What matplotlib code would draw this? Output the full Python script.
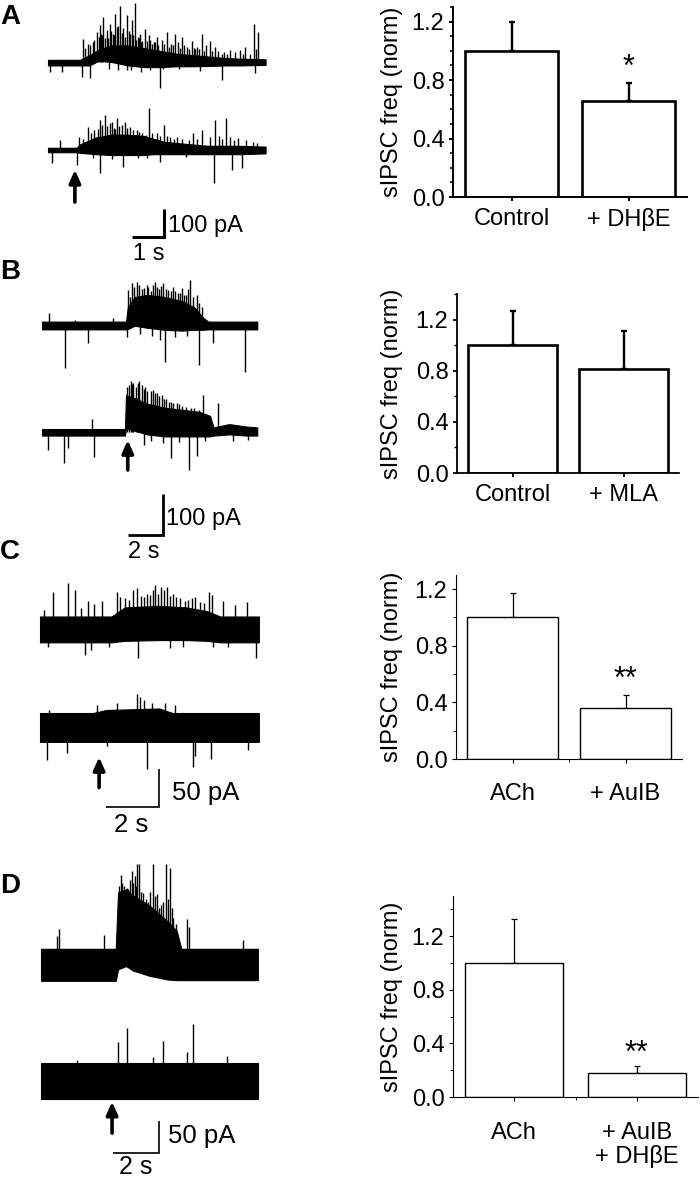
import numpy as np
import matplotlib
matplotlib.use("Agg")
import matplotlib.pyplot as plt
from matplotlib.ticker import MultipleLocator, FixedLocator

plt.rcParams['font.family'] = ['Liberation Sans', 'DejaVu Sans']

# ---------------- bar chart data ----------------
A_labels = ["Control", "+ DH\u03b2E"]
A_vals = [1.0, 0.66]
A_errs = [0.20, 0.12]
B_labels = ["Control", "+ MLA"]
B_vals = [1.0, 0.81]
B_errs = [0.27, 0.30]
C_labels = ["ACh", "+ AuIB"]
C_vals = [1.0, 0.36]
C_errs = [0.17, 0.09]
D_labels = ["ACh", "+ AuIB\n+ DH\u03b2E"]
D_vals = [1.0, 0.18]
D_errs = [0.33, 0.055]
yticks = [0.0, 0.4, 0.8, 1.2]
ytick_labels = ["0.0", "0.4", "0.8", "1.2"]

# ---------------- trace data (time s, current pA rel. to baseline) ----------------
# Panel A, top trace
A1_env_t = [0, 1.0, 1.3, 1.6, 2.0, 2.5, 3.0, 3.5, 4.0, 4.5, 5.0, 5.5, 6.0, 6.8]
A1_env_hi = [8, 8, 25, 45, 60, 60, 50, 40, 30, 25, 20, 15, 12, 10]
A1_env_lo = [-12, -12, -12, 6, 0, -12, -18, -18, -15, -15, -14, -12, -12, -10]
A1_up_t = [1.10, 1.26, 1.40, 1.52, 1.63, 1.70, 1.73, 1.83, 1.88, 1.94, 2.02, 2.09, 2.15, 2.25,
           2.35, 2.46, 2.52, 2.61, 2.72, 2.80, 2.88, 2.95, 3.03, 3.15, 3.30, 3.40, 3.55, 3.71,
           3.85, 3.97, 4.05, 4.18, 4.25, 4.33, 4.49, 4.60, 4.65, 4.80, 4.95, 5.06, 5.22, 5.30,
           5.43, 5.69, 5.85, 6.00, 6.16, 6.30, 6.44, 6.57,
           1.15, 1.32, 1.45, 1.58, 1.67, 1.78, 1.98, 2.05, 2.20, 2.30, 2.40, 2.56, 2.66, 2.76,
           2.84, 2.92, 3.08, 3.20, 3.25, 3.35, 3.45, 3.62, 3.78, 3.90, 4.12, 4.40, 4.55, 4.72,
           4.88, 5.12, 5.50, 5.60, 6.10, 6.50]
A1_up_a = [83, 65, 70, 107, 131, 95, 161, 113, 85, 137, 100, 173, 125, 202,
           120, 167, 110, 149, 211, 90, 101, 75, 119, 95, 70, 89, 80, 107,
           65, 101, 70, 89, 60, 54, 77, 45, 54, 101, 60, 77, 54, 40,
           30, 42, 35, 42, 54, 30, 137, 107,
           50, 60, 80, 90, 100, 85, 110, 95, 130, 105, 90, 100, 95, 80,
           85, 70, 75, 80, 65, 70, 60, 65, 55, 60, 50, 45, 50, 45,
           40, 40, 35, 30, 30, 45]
A1_dn_t = [0.06, 0.43, 1.05, 1.31, 2.46, 3.50, 4.75, 5.43, 6.47, 1.90, 2.20, 2.60, 2.90, 3.20, 3.60, 4.10]
A1_dn_a = [-36, -36, -54, -56, -30, -92, -32, -63, -39, -25, -30, -28, -35, -30, -25, -25]
# Panel A, bottom trace
A2_env_t = [0, 0.9, 1.0, 1.5, 2.0, 2.5, 3.0, 3.3, 3.6, 4.0, 4.5, 5.0, 5.5, 6.0, 6.8]
A2_env_hi = [8, 8, 20, 45, 55, 55, 50, 40, 30, 25, 20, 15, 15, 15, 12]
A2_env_lo = [-8, -8, -10, -15, -18, -18, -18, -15, -15, -15, -15, -15, -15, -15, -12]
A2_up_t = [0.375, 0.97, 1.26, 1.45, 1.63, 1.78, 1.94, 2.05, 2.15, 2.30, 2.41, 2.56, 2.77, 2.95,
           3.17, 3.40, 3.64, 3.81, 4.02, 4.54, 4.80, 5.22, 5.35, 5.56, 5.70, 5.95, 6.20, 6.52,
           1.10, 1.35, 1.55, 1.70, 1.85, 2.00, 2.10, 2.22, 2.48, 2.65, 2.85, 3.05, 3.25, 3.50,
           3.72, 3.95, 4.20, 4.40, 4.65, 5.05, 5.45, 5.80, 6.40]
A2_up_a = [36, 48, 83, 70, 107, 125, 95, 80, 113, 90, 101, 83, 71, 60,
           149, 60, 89, 48, 45, 60, 71, 107, 50, 113, 45, 42, 35, 24,
           40, 60, 75, 90, 85, 100, 75, 85, 80, 70, 65, 55, 60, 50,
           50, 40, 40, 35, 40, 45, 40, 35, 30]
A2_dn_t = [0.11, 0.92, 1.63, 2.35, 3.50, 5.19, 5.74, 6.05, 1.40, 2.00, 2.80, 3.10, 4.30]
A2_dn_a = [-48, -54, -83, -60, -42, -119, -71, -65, -30, -32, -30, -28, -25]

# Panel B, top trace
B1_env_t = [0, 4.8, 4.9, 5.3, 6.0, 7.0, 8.0, 8.7, 9.2, 9.5, 12.3]
B1_env_hi = [10, 10, 45, 70, 75, 70, 60, 45, 20, 10, 10]
B1_env_lo = [-9, -9, -8, 0, -5, -10, -12, -10, -10, -9, -9]
B1_up_t = [0.42, 1.89, 4.08, 4.93, 5.12, 5.41, 5.70, 5.98, 6.20, 6.46, 6.70, 6.93, 7.20, 7.50,
           7.75, 7.98, 8.20, 8.46, 8.84, 9.12,
           5.00, 5.25, 5.55, 5.85, 6.08, 6.33, 6.58, 6.82, 7.08, 7.35, 7.62, 7.87, 8.10, 8.32,
           8.60, 8.95]
B1_up_a = [30, 15, 18, 87, 103, 107, 90, 99, 85, 107, 90, 103, 88, 95,
           80, 91, 75, 111, 75, 46,
           70, 95, 100, 92, 95, 100, 95, 98, 90, 85, 85, 80, 75, 90,
           70, 55]
B1_dn_t = [1.31, 2.61, 4.84, 6.74, 7.03, 8.97, 9.75, 11.6, 5.60, 6.30, 7.60, 8.30]
B1_dn_a = [-102, -43, -28, -35, -89, -97, -43, -112, -20, -25, -28, -25]
# Panel B, bottom trace
B2_env_t = [0, 4.74, 4.8, 5.2, 6.0, 7.0, 8.0, 9.0, 9.6, 9.8, 10.7, 11.7, 12.3]
B2_env_hi = [8, 8, 90, 85, 70, 60, 55, 50, 40, 12, 20, 14, 12]
B2_env_lo = [-8, -8, 10, 5, -5, -10, -10, -10, -10, -8, -5, -8, -8]
B2_up_t = [2.84, 5.07, 5.22, 5.56, 5.69, 5.89, 6.36, 6.55, 6.84, 7.10, 7.35, 7.70, 8.0, 8.5, 9.18, 10.08,
           4.85, 4.98, 5.15, 5.35, 5.47, 5.80, 6.00, 6.20, 6.45, 6.70, 6.95, 7.25, 7.50, 7.85,
           8.20, 8.70, 8.95, 9.35]
B2_up_a = [32, 124, 120, 124, 115, 111, 103, 95, 91, 80, 75, 71, 65, 60, 91, 71,
           110, 115, 118, 110, 120, 105, 100, 100, 95, 88, 80, 75, 72, 68,
           62, 60, 55, 45]
B2_dn_t = [0.32, 1.26, 1.47, 2.99, 5.83, 7.35, 8.40, 8.84, 10.9, 11.79, 6.20, 6.90, 7.80, 9.30]
B2_dn_a = [-43, -76, -39, -61, -31, -63, -92, -59, -21, -20, -22, -25, -24, -22]

# Panel C, top trace
C1_env_t = [0, 2.7, 3.2, 4.5, 5.5, 6.3, 6.8, 8.26]
C1_env_hi = [18, 18, 30, 32, 30, 25, 18, 18]
C1_env_lo = [-16, -16, -14, -13, -13, -14, -16, -16]
C1_up_t = [0.16, 0.50, 1.07, 1.32, 1.55, 1.80, 2.05, 2.33, 2.89, 3.02, 3.52, 3.65, 4.03, 4.28,
           4.34, 4.57, 4.69, 4.78, 5.03, 5.28, 5.47, 5.72, 5.85, 6.04, 6.39, 6.49, 6.92, 7.36, 7.82,
           3.20, 3.35, 3.80, 3.92, 4.15, 4.45, 4.90, 5.15, 5.60, 6.20]
C1_up_a = [26, 50, 62, 53, 29, 38, 35, 39, 50, 44, 53, 55, 48, 53,
           59, 57, 53, 57, 48, 42, 39, 42, 44, 37, 50, 46, 39, 33, 37,
           42, 40, 45, 44, 46, 48, 45, 44, 40, 36]
C1_dn_t = [0.29, 1.70, 1.91, 3.69, 6.54, 8.15, 2.60, 4.90, 5.40, 7.10]
C1_dn_a = [-22, -33, -26, -37, -22, -37, -22, -24, -22, -22]
# Panel C, bottom trace
C2_env_t = [0, 2.0, 2.5, 4.5, 5.0, 8.26]
C2_env_hi = [18, 18, 22, 24, 18, 18]
C2_env_lo = [-20, -20, -20, -20, -20, -20]
C2_up_t = [0.35, 2.14, 2.89, 3.66, 3.77, 3.92, 4.21, 4.72, 5.09]
C2_up_a = [22, 29, 31, 43, 39, 35, 31, 31, 29]
C2_dn_t = [0.25, 1.00, 2.52, 4.03, 5.79, 5.85, 6.44, 7.86]
C2_dn_a = [-44, -35, -26, -55, -53, -39, -42, -31]

# Panel D, top trace
D1_env_t = [0, 3.25, 3.35, 3.7, 4.0, 4.7, 5.5, 5.9, 6.1, 9.43]
D1_env_hi = [22, 22, 110, 115, 105, 90, 65, 50, 22, 22]
D1_env_lo = [-28, -28, -10, -5, -12, -20, -26, -27, -27, -27]
D1_up_t = [0.68, 0.78, 2.74, 3.46, 3.61, 3.72, 3.94, 4.09, 4.19, 4.28, 4.45, 4.88, 5.03, 5.14,
           5.43, 5.61, 5.75, 6.33, 6.45, 8.77,
           3.40, 3.53, 3.66, 3.80, 3.87, 4.02, 4.14, 4.35, 4.55, 4.65, 4.75, 4.95, 5.20, 5.30,
           5.50, 5.68, 5.85]
D1_up_a = [42, 53, 44, 138, 120, 117, 143, 135, 155, 155, 109, 155, 107, 86,
           155, 148, 70, 68, 56, 36,
           120, 125, 110, 115, 130, 125, 120, 110, 100, 95, 110, 105, 90, 95,
           100, 85, 60]
D1_dn_t = []
D1_dn_a = []
# Panel D, bottom trace
D2_env_t = [0, 9.43]
D2_env_hi = [27, 27]
D2_env_lo = [-29, -29]
D2_up_t = [1.55, 3.36, 3.72, 4.88, 5.29, 6.33, 6.62, 8.10]
D2_up_a = [31, 60, 81, 36, 61, 44, 87, 38]
D2_dn_t = []
D2_dn_a = []

# ---------------- figure ----------------
W, H = 700, 1180
fig = plt.figure(figsize=(7, 11.8), dpi=100)


def rect(l, t, r, b):
    return [l / W, 1 - b / H, (r - l) / W, (b - t) / H]


def ftext(x, y, s, **kw):
    fig.text(x / W, 1 - y / H, s, va='baseline', **kw)


def trace_axes(top, bot, x0, pps, y0, ppa):
    ax = fig.add_axes(rect(0, top, 300, bot))
    ax.set_xlim((0 - x0) / pps, (300 - x0) / pps)
    ax.set_ylim((y0 - bot) / ppa, (y0 - top) / ppa)
    ax.axis('off')
    return ax


def draw_trace(ax, off, et, hi, lo, ut, ua, dt, da, lw=1.0):
    ax.fill_between(et, np.array(lo) + off, np.array(hi) + off, color='k',
                    edgecolor='k', linewidth=0.8)
    if ut:
        ax.vlines(ut, off, np.array(ua) + off, color='k', lw=lw)
    if dt:
        ax.vlines(dt, off, np.array(da) + off, color='k', lw=lw)


def scalebar(ax, tc, ac, dt, da, lw):
    ax.plot([tc - dt, tc, tc], [ac, ac, ac + da], color='k', lw=lw,
            solid_capstyle='butt', solid_joinstyle='miter')


def arrow(ax, t, tip, tail):
    ax.annotate('', xy=(t, tip), xytext=(t, tail),
                arrowprops=dict(arrowstyle='-|>,head_length=0.38,head_width=0.17',
                                lw=2.6, color='k', mutation_scale=20,
                                shrinkA=0, shrinkB=0))


def bar_panel(box, labels, vals, errs, ymax, minor, lw_ax, lw_bar, star, star_y,
              xpad, xminor=False):
    l, t, r, b = box
    ax = fig.add_axes(rect(l, t, r, b))
    x = np.arange(len(vals))
    ax.bar(x, vals, width=0.8, color='white', edgecolor='k', linewidth=lw_bar, zorder=2)
    ax.errorbar(x, vals, yerr=[np.zeros(len(errs)), errs], fmt='none', ecolor='k',
                elinewidth=lw_bar * 0.9, capsize=2.5, capthick=lw_bar * 0.9, zorder=1)
    ax.set_xlim(-0.5, 1.5)
    ax.set_ylim(0, ymax)
    for s in ['top', 'right']:
        ax.spines[s].set_visible(False)
    for s in ['left', 'bottom']:
        ax.spines[s].set_linewidth(lw_ax)
    ax.set_yticks(yticks)
    ax.set_yticklabels(ytick_labels, fontsize=17)
    ax.yaxis.set_minor_locator(MultipleLocator(minor))
    ax.set_xticks(x)
    ax.set_xticklabels(labels, fontsize=17, linespacing=1.05)
    if xminor:
        ax.xaxis.set_minor_locator(FixedLocator([0.5]))
    ax.tick_params(axis='both', which='major', direction='out', length=3.2,
                   width=lw_ax, pad=3)
    ax.tick_params(axis='x', which='major', pad=xpad)
    ax.tick_params(axis='both', which='minor', direction='out', length=2,
                   width=lw_ax * 0.8)
    ax.set_ylabel('sIPSC freq (norm)', fontsize=17)
    ax.yaxis.set_label_coords((403 - l) / (r - l), 0.5)
    ax.text(1, star_y, star, ha='center', va='baseline', fontsize=22)
    return ax


# ---- bar charts ----
bar_panel((453, 7, 687, 197), A_labels, A_vals, A_errs, 1.3, 0.1, 1.4, 1.9, '*', 0.83, 5)
bar_panel((457, 294, 679, 473), B_labels, B_vals, B_errs, 1.4, 0.2, 1.3, 1.9, '', 0.0, 5)
bar_panel((456, 575, 682, 759), C_labels, C_vals, C_errs, 1.3, 0.2, 0.8, 1.0, '**', 0.50, 14, True)
bar_panel((453, 896, 698, 1097), D_labels, D_vals, D_errs, 1.5, 0.2, 0.8, 1.0, '**', 0.26, 15, True)

# ---- traces ----
# Panel A
axA = trace_axes(0, 262, 48, 32, 150, 0.28)
draw_trace(axA, 314, A1_env_t, A1_env_hi, A1_env_lo, A1_up_t, A1_up_a, A1_dn_t, A1_dn_a)
draw_trace(axA, 0, A2_env_t, A2_env_hi, A2_env_lo, A2_up_t, A2_up_a, A2_dn_t, A2_dn_a)
arrow(axA, 0.84, -71, -186)
scalebar(axA, 3.63, -311, 1.0, 100, 2.2)
ftext(168, 232, '100 pA', fontsize=17)
ftext(149, 260, '1 s', fontsize=17, ha='center')

# Panel B
axB = trace_axes(262, 545, 42, 17.5, 432.3, 0.41)
draw_trace(axB, 260, B1_env_t, B1_env_hi, B1_env_lo, B1_up_t, B1_up_a, B1_dn_t, B1_dn_a)
draw_trace(axB, 0, B2_env_t, B2_env_hi, B2_env_lo, B2_up_t, B2_up_a, B2_dn_t, B2_dn_a)
arrow(axB, 4.9, -19, -92)
scalebar(axB, 6.91, -250, 2.0, 100, 2.0)
ftext(166, 525, '100 pA', fontsize=17)
ftext(144, 558, '2 s', fontsize=17, ha='center')

# Panel C
axC = trace_axes(565, 840, 40, 26.5, 726.7, 0.76)
draw_trace(axC, 127, C1_env_t, C1_env_hi, C1_env_lo, C1_up_t, C1_up_a, C1_dn_t, C1_dn_a)
draw_trace(axC, 0, C2_env_t, C2_env_hi, C2_env_lo, C2_up_t, C2_up_a, C2_dn_t, C2_dn_a)
arrow(axC, 2.23, -40, -80)
scalebar(axC, 4.49, -106, 2.0, 50, 1.2)
ftext(172, 800, '50 pA', fontsize=18.5)
ftext(131, 832, '2 s', fontsize=18.5, ha='center')

# Panel D
axD = trace_axes(860, 1180, 41, 23, 1080, 0.64)
draw_trace(axD, 183, D1_env_t, D1_env_hi, D1_env_lo, D1_up_t, D1_up_a, D1_dn_t, D1_dn_a)
draw_trace(axD, 0, D2_env_t, D2_env_hi, D2_env_lo, D2_up_t, D2_up_a, D2_dn_t, D2_dn_a)
arrow(axD, 3.09, -34, -83)
scalebar(axD, 5.13, -114, 2.0, 50, 1.2)
ftext(168, 1143, '50 pA', fontsize=18.5)
ftext(136, 1174, '2 s', fontsize=18, ha='center')

# panel letters
for letter, yb in [('A', 24), ('B', 279), ('C', 559), ('D', 893)]:
    ftext(0, yb, letter, fontsize=20, fontweight='bold')

fig.savefig('out.png', dpi=100)
